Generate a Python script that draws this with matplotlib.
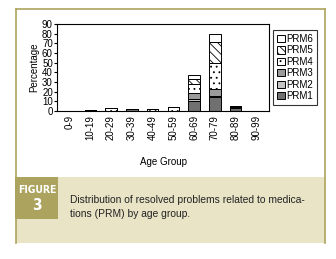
import matplotlib
matplotlib.use("Agg")
import matplotlib.pyplot as plt
from matplotlib.patches import Rectangle
import numpy as np

plt.rcParams['font.family'] = ['Liberation Sans', 'DejaVu Sans']
plt.rcParams['hatch.linewidth'] = 0.6

categories = ['0-9', '10-19', '20-29', '30-39', '40-49', '50-59', '60-69', '70-79', '80-89', '90-99']
series_names = ['PRM1', 'PRM2', 'PRM3', 'PRM4', 'PRM5', 'PRM6']
prm1 = [0, 1, 0, 2, 0, 0, 10, 15, 3, 0]
prm2 = [0, 0, 0, 0, 0, 0, 2, 1, 1, 0]
prm3 = [0, 0, 0, 0, 0, 0, 7, 7, 1, 0]
prm4 = [0, 0, 3, 0, 2, 4, 9, 27, 0, 0]
prm5 = [0, 0, 0, 0, 0, 0, 5, 21, 0, 0]
prm6 = [0, 0, 0, 0, 0, 0, 4, 9, 0, 0]
yticks = list(range(0, 91, 10))

series = [prm1, prm2, prm3, prm4, prm5, prm6]
colors = ['#707070', '#c4c4c4', '#9a9a9a', 'white', 'white', 'white']
hatches = [None, None, None, '...', '\\\\\\\\', None]

fig = plt.figure(figsize=(3.36, 2.59), dpi=100)
olive = '#aca45e'
top = 1 - 9/259
bot = 1 - 243/259
# frame lines
fig.add_artist(plt.Line2D([16/336, 16/336], [bot, top], color=olive, lw=1.2, transform=fig.transFigure))
fig.add_artist(plt.Line2D([325/336, 325/336], [bot, top], color=olive, lw=1.2, transform=fig.transFigure))
fig.add_artist(plt.Line2D([16/336, 325/336], [top, top], color=olive, lw=1.2, transform=fig.transFigure))
# caption panel
fig.add_artist(Rectangle((16/336, bot), (325 - 16)/336, (243 - 177)/259,
                         facecolor='#e9e4c6', edgecolor='none', transform=fig.transFigure))
fig.add_artist(Rectangle((15/336, 1 - 219/259), (58 - 15)/336, (219 - 177)/259,
                         facecolor=olive, edgecolor='none', transform=fig.transFigure))
fig.text(37/336, 1 - 190/259, 'FIGURE', color='white', fontsize=7.5, fontweight='bold',
         family='DejaVu Sans', stretch='condensed', ha='center', va='center')
fig.text(37/336, 1 - 206/259, '3', color='white', fontsize=11, fontweight='bold',
         family='DejaVu Sans', stretch='condensed', ha='center', va='center')
fig.text(70/336, 1 - 200/259, 'Distribution of resolved problems related to medica-',
         fontsize=7.4, ha='left', va='center', color='#222222')
fig.text(70/336, 1 - 214/259, 'tions (PRM) by age group.',
         fontsize=7.4, ha='left', va='center', color='#222222')

ax = fig.add_axes([57/336, 1 - 111/259, (269 - 57)/336, (111 - 24)/259])
x = np.arange(len(categories))
bottom = np.zeros(len(categories))
handles = []
for vals, c, h, name in zip(series, colors, hatches, series_names):
    b = ax.bar(x, vals, width=0.55, bottom=bottom, color=c, edgecolor='black',
               linewidth=0.7, hatch=h, label=name)
    handles.append(b)
    bottom += np.array(vals)

ax.set_xlim(-0.6, len(categories) - 0.4)
ax.set_ylim(0, 90)
ax.set_yticks(yticks)
ax.set_xticks(x)
ax.set_xticklabels(categories, rotation=90, fontsize=7)
ax.tick_params(axis='y', labelsize=7, length=2, pad=1)
ax.tick_params(axis='x', length=0, pad=3)
for s in ax.spines.values():
    s.set_linewidth(0.8)
ax.set_ylabel('Percentage', fontsize=7, labelpad=2)
ax.set_xlabel('Age Group', fontsize=7, labelpad=12)

leg = fig.legend(handles[::-1], series_names[::-1], loc='upper left',
                 bbox_to_anchor=(273/336, 1 - 30/259), fontsize=7, frameon=True,
                 fancybox=False, edgecolor='black', handlelength=0.8, handleheight=0.75,
                 handletextpad=0.2, labelspacing=0.15, borderpad=0.4, borderaxespad=0)
leg.get_frame().set_linewidth(0.8)

fig.savefig('out.png', dpi=100)
